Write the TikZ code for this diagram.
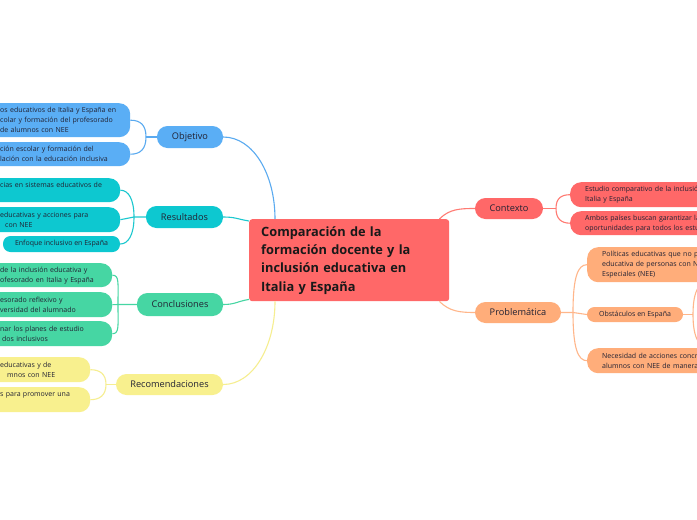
\documentclass[tikz,border=0pt]{standalone}
\usepackage{fontspec}
\setmainfont{Open Sans}
\definecolor{cblue}{HTML}{5AAEF5}
\definecolor{cteal}{HTML}{0DC8D0}
\definecolor{cgreen}{HTML}{46D6A3}
\definecolor{cyellow}{HTML}{F8F08E}
\definecolor{cred}{HTML}{FF6868}
\definecolor{corange}{HTML}{FFAD7A}
\definecolor{lblue}{HTML}{5AAAF0}
\definecolor{lteal}{HTML}{1CC8CF}
\definecolor{lgreen}{HTML}{46D6A3}
\definecolor{lyellow}{HTML}{F6EE90}
\definecolor{lred}{HTML}{FF7A72}
\definecolor{lorange}{HTML}{FFB68A}
\definecolor{txt}{HTML}{222233}
\begin{document}
\begin{tikzpicture}[x=1pt,y=-1pt,
  every node/.style={inner sep=0pt},
  topic/.style={rounded corners=10.5pt, minimum height=22pt, font=\fontsize{9.2}{11}\selectfont, text=txt},
  leafl/.style={anchor=north west, rounded corners=11pt, inner xsep=12pt, align=left, font=\fontsize{7}{10}\selectfont, text=txt},
  leafr/.style={anchor=north west, rounded corners=11pt, inner xsep=15pt, text width=300pt, align=left, font=\fontsize{7}{10}\selectfont, text=txt},
  leafc/.style={rounded corners=7.5pt, font=\fontsize{7}{10}\selectfont, text=txt},
  conn/.style={line width=1.1pt},
]
\useasboundingbox (0,0) rectangle (697,520);
\clip (0,0) rectangle (697,520);
\fill[white] (0,0) rectangle (697,520);

% central
\node[anchor=north west, fill=cred, rounded corners=3pt, minimum width=200pt, minimum height=82pt,
  text width=176pt, inner xsep=12pt, align=left, font=\bfseries\fontsize{12.8}{18.3}\selectfont, text=black!90] (cen) at (249,219)
  {Comparación de la\\formación docente y la\\inclusión educativa en\\Italia y España};

% topics
\node[topic, fill=cblue, minimum width=66pt] (obj) at (190,137) {Objetivo};
\node[topic, fill=cteal, minimum width=77pt] (res) at (184.5,217) {Resultados};
\node[topic, fill=cgreen, minimum width=86pt, minimum height=23pt] (con) at (180,304.5) {Conclusiones};
\node[topic, fill=cyellow, minimum width=107pt, minimum height=21pt] (rec) at (169.5,384.5) {Recomendaciones};
\node[topic, fill=cred, minimum width=68pt, minimum height=21pt] (ctx) at (509,208.5) {Contexto};
\node[topic, fill=corange, minimum width=86pt, minimum height=21pt] (prb) at (518,312.5) {Problemática};

% left leaves
\node[leafl, fill=cblue, text width=118pt, minimum height=34pt] (o1) at (-12,103)
  {\mbox{os educativos de Italia y España en}\\\mbox{colar y formación del profesorado}\\\mbox{de alumnos con NEE}};
\node[leafl, fill=cblue, text width=118pt, minimum height=24pt] (o2) at (-12,142)
  {\mbox{ción escolar y formación del}\\\mbox{lación con la educación inclusiva}};
\node[leafl, fill=cteal, text width=108pt, minimum height=24pt] (r1) at (-12,178)
  {\mbox{cias en sistemas educativos de}\\\mbox{}};
\node[leafl, fill=cteal, text width=108pt, minimum height=25pt] (r2) at (-12,207)
  {\mbox{educativas y acciones para}\\\hspace*{5pt}\mbox{con NEE}};
\node[leafc, fill=cteal, minimum width=117pt, minimum height=16pt] (r3) at (61.5,244) {Enfoque inclusivo en España};
\node[leafl, fill=cgreen, text width=100pt, minimum height=24pt] (c1) at (-12,263)
  {\mbox{de la inclusión educativa y}\\\mbox{ofesorado en Italia y España}};
\node[leafl, fill=cgreen, text width=100pt, minimum height=25pt] (c2) at (-12,292)
  {\mbox{esorado reflexivo y}\\\mbox{versidad del alumnado}};
\node[leafl, fill=cgreen, text width=100pt, minimum height=25pt] (c3) at (-12,321)
  {\mbox{nar los planes de estudio}\\\hspace*{2pt}\mbox{dos inclusivos}};
\node[leafl, fill=cyellow, text width=78pt, minimum height=25pt] (e1) at (-12,357)
  {\mbox{educativas y de}\\\hspace*{7pt}\mbox{mnos con NEE}};
\node[leafl, fill=cyellow, text width=78pt, minimum height=25pt] (e2) at (-12,387)
  {\mbox{s para promover una}\\\mbox{}};

% right leaves
\node[leafr, fill=cred, minimum height=25pt] (x1) at (570,182)
  {Estudio comparativo de la inclusión\\Italia y España};
\node[leafr, fill=cred, minimum height=24pt] (x2) at (570,211)
  {Ambos países buscan garantizar la\\oportunidades para todos los estudiantes};
\node[leafr, fill=corange, minimum height=35pt] (p1) at (587,247)
  {Políticas educativas que no priorizan\\educativa de personas con Necesidades\\Especiales (NEE)};
\node[leafc, fill=corange, minimum width=96pt, minimum height=15pt] (p2) at (635,314.5) {Obstáculos en España};
\node[leafr, fill=corange, minimum height=25pt] (p3) at (587,348)
  {Necesidad de acciones concretas\\alumnos con NEE de manera};

% central connectors
\draw[conn, lblue] (obj.east) .. controls +(30,0) and +(0,-45) .. ([xshift=26pt]cen.north west);
\draw[conn, lteal] (res.east) .. controls +(12,0) and +(-12,-2) .. ([yshift=-2pt]cen.north west);
\draw[conn, lgreen] (con.east) .. controls +(12,0) and +(-12,2) .. ([yshift=2pt]cen.south west);
\draw[conn, lyellow] (rec.east) .. controls +(30,0) and +(0,45) .. ([xshift=26pt]cen.south west);
\draw[conn, lred] ([xshift=-10pt]cen.north east) .. controls +(10,-10) and +(-15,0) .. (ctx.west);
\draw[conn, lorange] ([xshift=-10pt]cen.south east) .. controls +(10,10) and +(-15,0) .. (prb.west);

% brackets
\coordinate (ob) at (146,137);
\draw[conn, lblue] (obj.west) -- (ob);
\draw[conn, lblue] (ob) .. controls +(0,-12) and +(10,0) .. (o1.east);
\draw[conn, lblue] (ob) .. controls +(0,12) and +(10,0) .. (o2.east);

\coordinate (rb) at (134,217);
\draw[conn, lteal] (res.west) -- (rb) -- (r2.east);
\draw[conn, lteal] (rb) .. controls +(0,-18) and +(8,0) .. (r1.east);
\draw[conn, lteal] (rb) .. controls +(0,18) and +(8,0) .. (r3.east);

\coordinate (cb) at (118,304.5);
\draw[conn, lgreen] (con.west) -- (cb) -- (c2.east);
\draw[conn, lgreen] (cb) .. controls +(0,-22) and +(7,0) .. (c1.east);
\draw[conn, lgreen] (cb) .. controls +(0,22) and +(7,0) .. (c3.east);

\coordinate (eb) at (106,384.5);
\draw[conn, lyellow] (rec.west) -- (eb);
\draw[conn, lyellow] (eb) .. controls +(0,-11) and +(9,0) .. (e1.east);
\draw[conn, lyellow] (eb) .. controls +(0,11) and +(9,0) .. (e2.east);

\coordinate (xb) at (556,208.5);
\draw[conn, lred] (ctx.east) -- (xb);
\draw[conn, lred] (xb) .. controls +(0,-10) and +(-9,0) .. (x1.west);
\draw[conn, lred] (xb) .. controls +(0,10) and +(-9,0) .. (x2.west);

\coordinate (pb) at (573,312.5);
\draw[conn, lorange] (prb.east) -- (pb) -- (p2.west);
\draw[conn, lorange] (pb) .. controls +(0,-36) and +(-9,0) .. (p1.west);
\draw[conn, lorange] (pb) .. controls +(0,36) and +(-9,0) .. (p3.west);

\coordinate (qb) at (693,314.5);
\coordinate (q1) at (712,280);
\coordinate (q2) at (712,349);
\draw[conn, lorange] (p2.east) -- (qb);
\draw[conn, lorange] (qb) .. controls +(0,-25) and +(-12,0) .. (q1);
\draw[conn, lorange] (qb) .. controls +(0,25) and +(-12,0) .. (q2);
\end{tikzpicture}
\end{document}
